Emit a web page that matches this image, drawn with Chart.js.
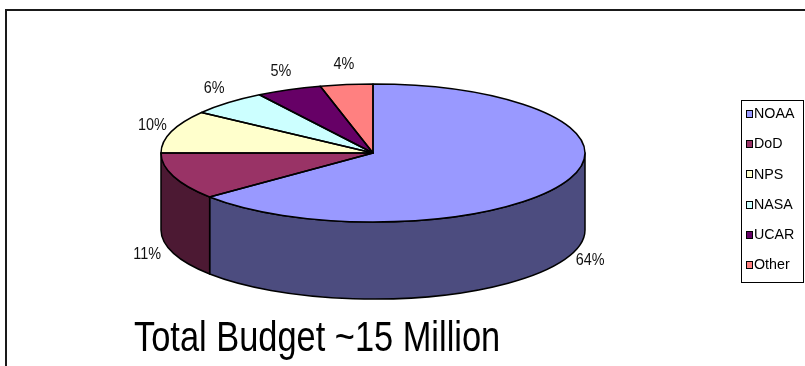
<!DOCTYPE html>
<html>
<head>
<meta charset="utf-8">
<script src="https://cdn.jsdelivr.net/npm/chart.js@4/dist/chart.umd.min.js"></script>
<style>
html,body{margin:0;padding:0;background:#fff;}
canvas{display:block;}
</style>
</head>
<body>
<canvas id="c" width="805" height="366"></canvas>
<script>
// ---- data ----
const categories = ['NOAA', 'DoD', 'NPS', 'NASA', 'UCAR', 'Other'];
const shares = [64, 11, 10, 6, 5, 4];
const shareLabels = ['64%', '11%', '10%', '6%', '5%', '4%'];
const titleText = 'Total Budget ~15 Million';

// ---- styles ----
const topColors = ['#9999FF', '#993366', '#FFFFCC', '#CCFFFF', '#660066', '#FF8080'];
const sideColors = ['#4C4C7F', '#4C1933', '#7F7F66', '#667F7F', '#330033', '#7F4040'];
const FONT = '"Liberation Sans", Arial, Helvetica, sans-serif';

// ellipse geometry (layout)
const G = { cx: 373, cy: 153, rx: 212, ry: 69, depth: 77, lblOff: 20 };

function ept(a, dy) {
  return [G.cx + G.rx * Math.cos(a), G.cy + (dy || 0) + G.ry * Math.sin(a)];
}

const pie3d = {
  id: 'pie3d',
  beforeDraw(chart) {
    const ctx = chart.ctx;
    ctx.save();
    ctx.fillStyle = '#fff';
    ctx.fillRect(0, 0, chart.width, chart.height);
    ctx.strokeStyle = '#1a1a1a';
    ctx.lineWidth = 2;
    ctx.beginPath();
    ctx.moveTo(6, 366);
    ctx.lineTo(6, 10);
    ctx.lineTo(805, 10);
    ctx.stroke();
    ctx.restore();
  },
  beforeDatasetsDraw(chart) {
    const ctx = chart.ctx;
    const arcs = chart.getDatasetMeta(0).data;
    // side walls (front half only: angles 0..PI)
    ctx.save();
    ctx.lineWidth = 1.5;
    ctx.strokeStyle = '#000';
    ctx.lineJoin = 'round';
    arcs.forEach((arc, i) => {
      const a0 = Math.max(arc.startAngle, 0);
      const a1 = Math.min(arc.endAngle, Math.PI);
      if (a1 <= a0) return;
      ctx.beginPath();
      ctx.ellipse(G.cx, G.cy, G.rx, G.ry, 0, a0, a1, false);
      const p = ept(a1, G.depth);
      ctx.lineTo(p[0], p[1]);
      ctx.ellipse(G.cx, G.cy + G.depth, G.rx, G.ry, 0, a1, a0, true);
      ctx.closePath();
      ctx.fillStyle = sideColors[i];
      ctx.fill();
      ctx.stroke();
    });
    ctx.restore();
    // project the library's circular pie onto the top ellipse
    const a = arcs[0];
    const R = a.outerRadius;
    ctx.save();
    ctx.translate(G.cx, G.cy);
    ctx.scale(G.rx / R, G.ry / R);
    ctx.translate(-a.x, -a.y);
  },
  afterDatasetsDraw(chart) {
    const ctx = chart.ctx;
    ctx.restore();
    const arcs = chart.getDatasetMeta(0).data;
    // outlines of top slices
    ctx.save();
    ctx.lineWidth = 1.5;
    ctx.strokeStyle = '#000';
    ctx.lineJoin = 'round';
    arcs.forEach((arc) => {
      ctx.beginPath();
      ctx.moveTo(G.cx, G.cy);
      ctx.ellipse(G.cx, G.cy, G.rx, G.ry, 0, arc.startAngle, arc.endAngle, false);
      ctx.closePath();
      ctx.stroke();
    });
    ctx.restore();
    // percentage labels
    ctx.save();
    ctx.fillStyle = '#111';
    ctx.font = '16px ' + FONT;
    ctx.textAlign = 'center';
    ctx.textBaseline = 'middle';
    arcs.forEach((arc, i) => {
      const m = (arc.startAngle + arc.endAngle) / 2;
      const c = Math.cos(m), s = Math.sin(m);
      let x, y;
      if (s > 0) {
        x = G.cx + (G.rx + G.lblOff + 8) * c;
        y = G.cy + (G.ry + 3) * s + G.depth;
      } else {
        x = G.cx + (G.rx + G.lblOff) * c;
        y = G.cy + (G.ry + G.lblOff) * s;
      }
      ctx.save();
      ctx.translate(x, y);
      ctx.scale(0.9, 1);
      ctx.fillText(shareLabels[i], 0, 0);
      ctx.restore();
    });
    ctx.restore();
    // legend
    ctx.save();
    ctx.strokeStyle = '#000';
    ctx.lineWidth = 1;
    ctx.strokeRect(741.5, 100.5, 62, 182);
    ctx.font = '15px ' + FONT;
    ctx.textBaseline = 'middle';
    ctx.textAlign = 'left';
    categories.forEach((name, i) => {
      const y = 114 + i * 30.2;
      ctx.fillStyle = topColors[i];
      ctx.fillRect(746.5, Math.round(y) - 3.5, 6, 7);
      ctx.strokeRect(746.5, Math.round(y) - 3.5, 6, 7);
      ctx.fillStyle = '#000';
      ctx.save();
      ctx.translate(754, y);
      ctx.scale(0.95, 1);
      ctx.fillText(name, 0, 0);
      ctx.restore();
    });
    ctx.restore();
    // title
    ctx.save();
    ctx.fillStyle = '#000';
    ctx.font = '43px ' + FONT;
    ctx.textBaseline = 'alphabetic';
    ctx.textAlign = 'left';
    ctx.translate(134, 351);
    ctx.scale(0.8, 1);
    ctx.fillText(titleText, 0, 0);
    ctx.restore();
  }
};

new Chart(document.getElementById('c'), {
  type: 'pie',
  data: {
    labels: categories,
    datasets: [{
      data: shares,
      backgroundColor: topColors,
      borderWidth: 0,
      clip: false
    }]
  },
  options: {
    responsive: false,
    animation: false,
    events: [],
    layout: { padding: { left: 220, right: 220, top: 20, bottom: 20 } },
    plugins: {
      legend: { display: false },
      tooltip: { enabled: false },
      title: { display: false }
    }
  },
  plugins: [pie3d]
});
</script>
</body>
</html>
